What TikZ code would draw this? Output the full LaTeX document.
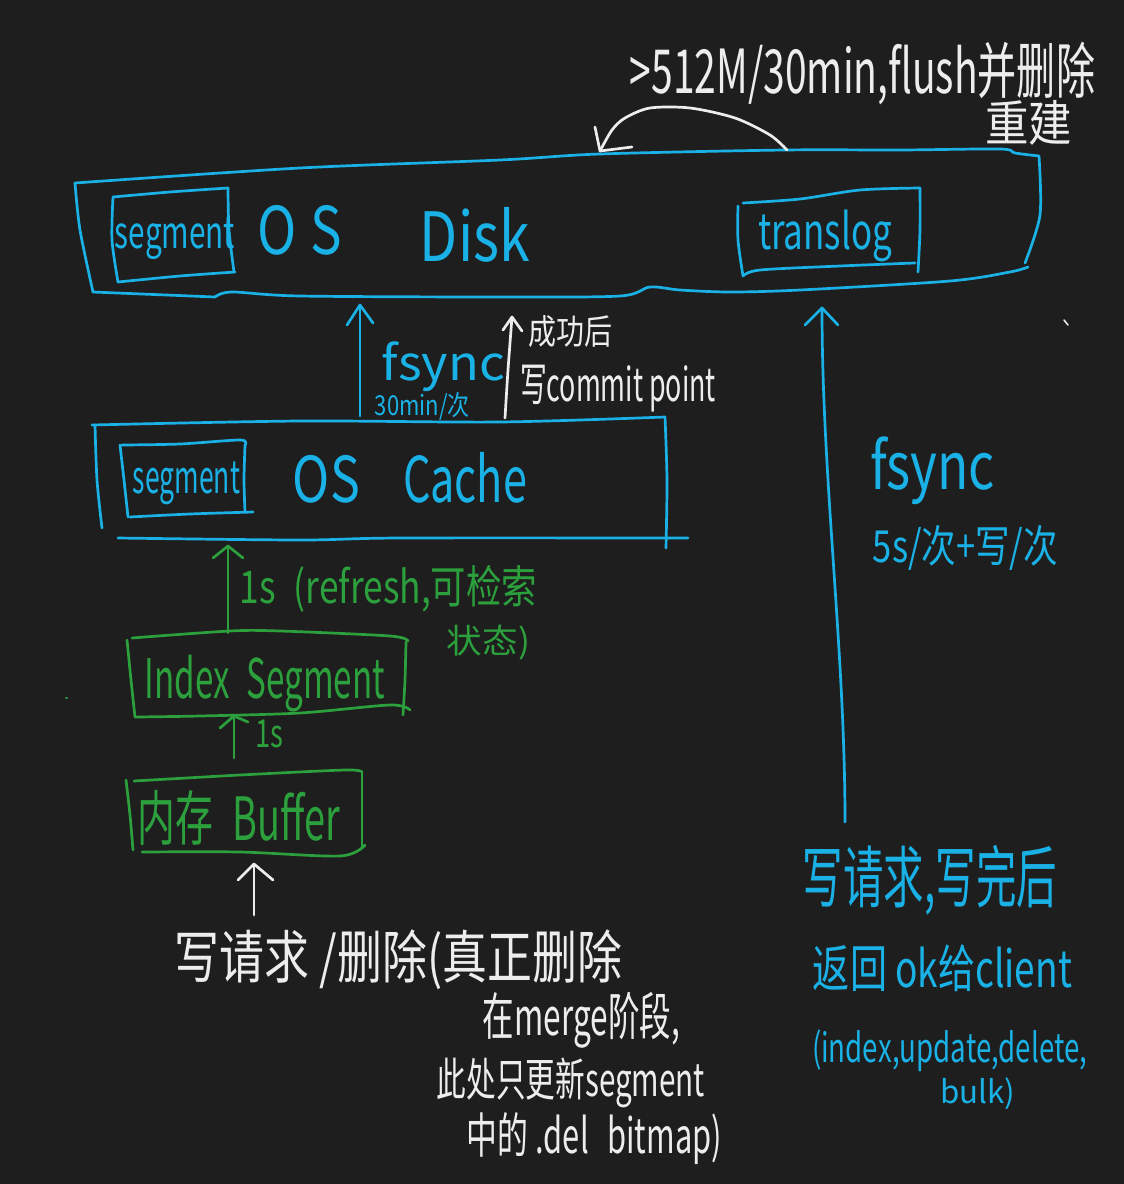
\documentclass[tikz,border=0pt]{standalone}
\usepackage{graphicx}
\usepackage{fontspec}
\setmainfont{Noto Sans CJK SC}
\usetikzlibrary{arrows.meta}
\definecolor{bg}{HTML}{1E1E1E}
\definecolor{inkblue}{HTML}{1AB2E6}
\definecolor{inkgreen}{HTML}{2CA03C}
\definecolor{inkwhite}{HTML}{EDEDED}
\tikzset{
  ink/.style={line width=2.7pt,line cap=round,line join=round},
  blueink/.style={ink,draw=inkblue},
  greenink/.style={ink,draw=inkgreen},
  whiteink/.style={ink,draw=inkwhite},
  hand/.style={inner sep=0pt,outer sep=0pt,anchor=center},
}
% name, x0, y0, x1, y1, colour, text: the text is fitted into the box
\newcommand{\lbl}[7]{%
  \pgfmathsetmacro{\lw}{#4-#2}\pgfmathsetmacro{\lh}{#5-#3}%
  \node[hand,text=#6] (#1) at ({(#2+#4)/2},{(#3+#5)/2}) {\resizebox*{\lw pt}{\lh pt}{#7}};%
}
\newcommand{\sk}[2]{\draw[#1] plot[smooth,tension=0.5] coordinates {#2};}
\begin{document}
\begin{tikzpicture}[x=1pt,y=-1pt]
\fill[bg] (0,0) rectangle (1124,1184);
\useasboundingbox (0,0) rectangle (1124,1184);

% --- named anchor points of the connectors
\coordinate (cachetopA) at (360,416);
\coordinate (disklowA) at (360,305);
\coordinate (cachetopB) at (505,418);
\coordinate (disklowB) at (512,317);
\coordinate (clientreq) at (845,822);
\coordinate (disklowC) at (822,308);
\coordinate (indextop) at (228,633);
\coordinate (cachelow) at (228,546);
\coordinate (buffertop) at (234,758);
\coordinate (indexlow) at (234,716);
\coordinate (reqtop) at (254,915);
\coordinate (bufferlow) at (254,864);
\coordinate (disktopR) at (787,150);
\coordinate (disktopL) at (600,151);

% --- OS Disk
\sk{blueink}{(75,183)(300,168)(500,160)(600,154)(785,150)(900,150)(1000,149)(1015,153)(1039,156)}
\sk{blueink}{(75,183)(80,230)(93,292)}
\sk{blueink}{(93,292)(215,297)}
\sk{blueink}{(215,297)(232,292)(300,296)(500,297)(620,296)(650,287)(680,290)(730,292)(800,290)(950,281)(1010,272)(1028,267)}
\sk{blueink}{(1039,156)(1040,215)(1025,263)}
% segment in disk
\sk{blueink}{(113,197)(170,192)(228,188)}
\sk{blueink}{(228,188)(229,230)(234,272)}
\sk{blueink}{(113,197)(112,240)(118,282)}
\sk{blueink}{(118,282)(180,276)(235,272)}
% translog
\sk{blueink}{(743,203)(800,199)(860,190)(920,188)}
\sk{blueink}{(920,188)(920,230)(918,272)}
\sk{blueink}{(738,206)(738,240)(743,276)}
\sk{blueink}{(743,276)(760,270)(840,266)(915,263)}

% --- OS Cache
\sk{blueink}{(92,425)(300,421)(500,422)(665,417)}
\sk{blueink}{(95,425)(97,480)(102,528)}
\sk{blueink}{(665,417)(667,480)(666,548)}
\sk{blueink}{(118,538)(300,540)(400,538)(688,538)}
% segment in cache
\sk{blueink}{(122,445)(180,444)(240,440)(245,445)}
\sk{blueink}{(245,445)(244,480)(245,512)}
\sk{blueink}{(120,445)(124,480)(128,517)}
\sk{blueink}{(130,517)(190,514)(253,512)}

% --- Index Segment
\sk{greenink}{(132,638)(230,631)(280,631)(390,636)(408,641)}
\sk{greenink}{(127,640)(131,680)(135,717)}
\sk{greenink}{(406,642)(405,680)(403,715)}
\sk{greenink}{(135,717)(200,716)(300,713)(390,705)(410,710)}

% --- Buffer
\sk{greenink}{(134,781)(240,775)(345,770)(362,772)}
\sk{greenink}{(126,780)(130,815)(133,850)}
\sk{greenink}{(362,772)(362,810)(362,848)}
\sk{greenink}{(142,852)(240,852)(340,856)(365,845)}

% --- connectors
\sk{blueink}{(cachetopA)(disklowA)}
\draw[blueink] (347,325) -- (disklowA) -- (373,323);
\sk{whiteink}{(cachetopB)(508,370)(disklowB)}
\draw[whiteink] (503,330) -- (disklowB) -- (522,331);
\draw[blueink] (clientreq) .. controls (845,650) and (822,480) .. (disklowC);
\draw[blueink] (805,325) -- (disklowC) -- (838,325);
\draw[greenink] (indextop) -- (cachelow);
\draw[greenink] (213,558) -- (cachelow) -- (243,558);
\draw[greenink] (buffertop) -- (indexlow);
\draw[greenink] (220,728) -- (indexlow) -- (248,722);
\draw[whiteink] (reqtop) -- (bufferlow);
\draw[whiteink] (238,880) -- (bufferlow) -- (273,880);
\sk{whiteink}{(disktopR)(770,135)(735,118)(690,108)(650,108)(625,118)(612,130)(disktopL)}
\draw[whiteink] (595,127) -- (disktopL) -- (632,147);

% --- stray marks
\draw[whiteink,line width=1.5pt] (1064,320) -- (1068,325);
\draw[greenink,line width=2pt] (66,698) -- (67,698);

% --- labels
\lbl{rule}{630}{42}{1095}{105}{inkwhite}{>512M/30min,flush并删除}
\lbl{rebuild}{985}{100}{1072}{145}{inkwhite}{重建}
\lbl{segdisk}{115}{218}{235}{260}{inkblue}{segment}
\lbl{osa}{258}{205}{342}{255}{inkblue}{O\hspace{0.25em}S}
\lbl{disk}{420}{207}{530}{262}{inkblue}{Disk}
\lbl{translog}{758}{210}{892}{262}{inkblue}{translog}
\lbl{fsynca}{382}{342}{505}{392}{inkblue}{fsync}
\lbl{thirty}{375}{392}{470}{420}{inkblue}{30min/次}
\lbl{success}{528}{315}{612}{347}{inkwhite}{成功后}
\lbl{commit}{520}{365}{716}{412}{inkwhite}{写commit point}
\lbl{segcache}{133}{462}{240}{505}{inkblue}{segment}
\lbl{osb}{293}{455}{360}{503}{inkblue}{OS}
\lbl{cache}{403}{452}{527}{503}{inkblue}{Cache}
\lbl{fsyncb}{870}{437}{995}{505}{inkblue}{fsync}
\lbl{fives}{873}{525}{1058}{570}{inkblue}{5s/次+写/次}
\lbl{refresh}{240}{565}{537}{612}{inkgreen}{1s\hspace{0.5em}(refresh,可检索}
\lbl{state}{447}{625}{530}{660}{inkgreen}{状态)}
\lbl{index}{145}{655}{385}{712}{inkgreen}{Index\hspace{0.5em}Segment}
\lbl{ones}{255}{720}{283}{748}{inkgreen}{1s}
\lbl{buffer}{138}{790}{340}{845}{inkgreen}{内存\hspace{0.5em}Buffer}
\lbl{reqa}{175}{930}{622}{990}{inkwhite}{写请求 /删除(真正删除}
\lbl{reqb}{483}{992}{680}{1048}{inkwhite}{在merge阶段,}
\lbl{reqc}{437}{1058}{705}{1108}{inkwhite}{此处只更新segment}
\lbl{reqd}{467}{1113}{722}{1165}{inkwhite}{中的 .del\hspace{0.6em}bitmap)}
\lbl{wa}{803}{845}{1057}{915}{inkblue}{写请求,写完后}
\lbl{wb}{813}{945}{1072}{992}{inkblue}{返回 ok给client}
\lbl{wc}{812}{1030}{1087}{1072}{inkblue}{(index,update,delete,}
\lbl{wd}{940}{1078}{1015}{1110}{inkblue}{bulk)}
\end{tikzpicture}
\end{document}
